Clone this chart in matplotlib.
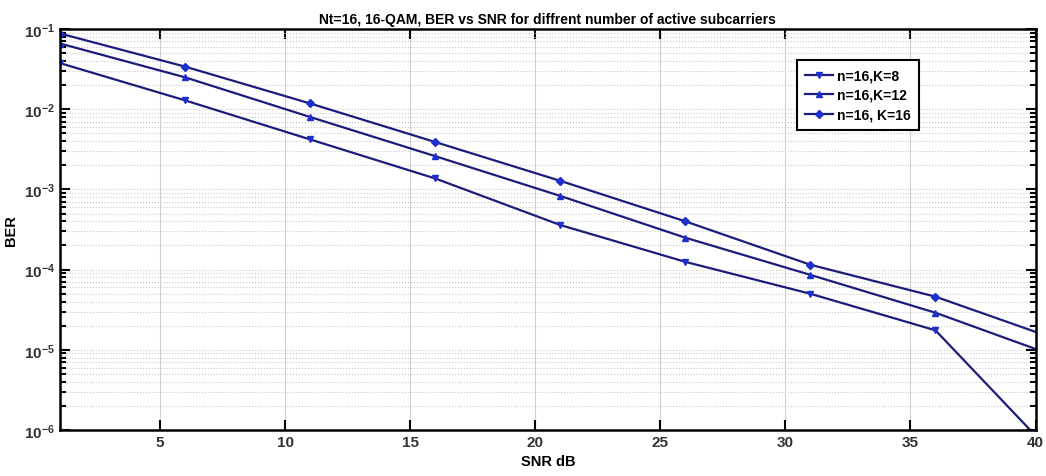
import numpy as np
import matplotlib.pyplot as plt

snr = [1, 6, 11, 16, 21, 26, 31, 36, 41]
ber_k8 = [0.0376, 0.0129, 0.0042, 0.00137, 3.6e-4, 1.25e-4, 5.0e-5, 1.75e-5, 4.0e-7]
ber_k12 = [0.066, 0.025, 0.0080, 0.0026, 8.3e-4, 2.5e-4, 8.6e-5, 2.9e-5, 7.9e-6]
ber_k16 = [0.088, 0.034, 0.0118, 0.0039, 0.00128, 4.0e-4, 1.15e-4, 4.6e-5, 1.3e-5]
labels = ['n=16,K=8', 'n=16,K=12', 'n=16, K=16']

plt.rcParams['font.family'] = ['Liberation Sans', 'DejaVu Sans']

fig = plt.figure(figsize=(10.46, 4.77), dpi=100)
ax = fig.add_axes([0.0574, 0.0964, 0.9326, 0.8406])

line_col = '#1c1c7a'
mk_col = '#1e2fd0'
ax.semilogy(snr, ber_k8, color=line_col, lw=1.6, marker='v', ms=5,
            mfc=mk_col, mec=mk_col, label=labels[0])
ax.semilogy(snr, ber_k12, color=line_col, lw=1.6, marker='^', ms=5,
            mfc=mk_col, mec=mk_col, label=labels[1])
ax.semilogy(snr, ber_k16, color=line_col, lw=1.6, marker='D', ms=4,
            mfc=mk_col, mec=mk_col, label=labels[2])

ax.set_xlim(1, 40)
ax.set_ylim(1e-6, 1e-1)
ax.set_xticks([5, 10, 15, 20, 25, 30, 35, 40])
ax.grid(True, which='major', axis='x', color='#d0d0d0', lw=0.8)
ax.grid(True, which='major', axis='y', color='#c8c8c8', lw=0.8, ls=':')
ax.grid(True, which='minor', axis='y', color='#c8c8c8', lw=0.8, ls=':')
ax.tick_params(which='both', direction='in', top=True, right=True,
               labelsize=11, width=1.5)
ax.tick_params(which='major', length=7)
ax.tick_params(which='minor', length=4)
for s in ax.spines.values():
    s.set_linewidth(1.8)
for t in ax.get_xticklabels() + ax.get_yticklabels():
    t.set_fontweight('bold')
    t.set_color('#333333')

ax.set_xlabel('SNR dB', fontweight='bold', fontsize=10.5)
ax.set_ylabel('BER', fontweight='bold', fontsize=10.5)
ax.set_title('Nt=16, 16-QAM, BER vs SNR for diffrent number of active subcarriers',
             fontweight='bold', fontsize=10, pad=4)

leg = ax.legend(loc='upper left', bbox_to_anchor=(0.748, 0.94), fancybox=False,
                framealpha=1, edgecolor='black', prop={'weight': 'bold', 'size': 10},
                handlelength=2.0, handletextpad=0.3, labelspacing=0.4, borderpad=0.6)
leg.get_frame().set_linewidth(1.5)

fig.savefig('out.png', dpi=100)
